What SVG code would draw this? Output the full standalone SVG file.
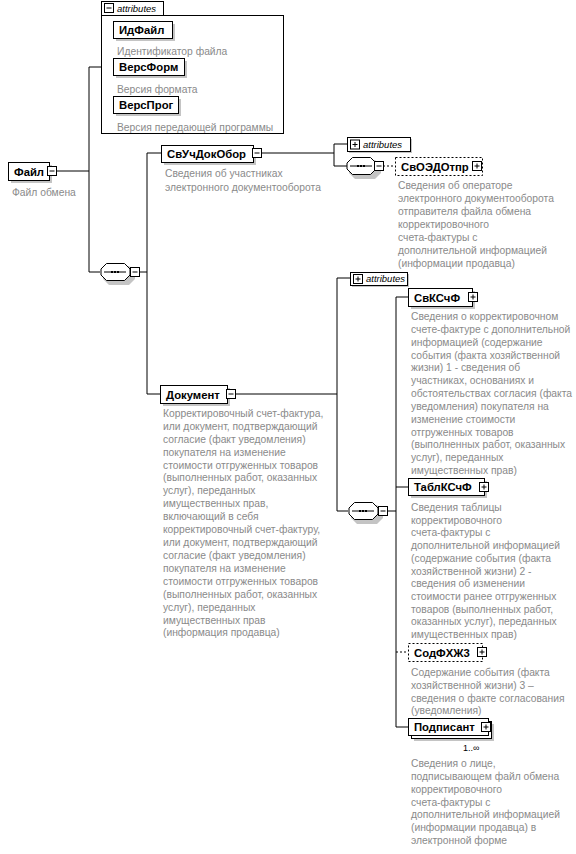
<svg xmlns="http://www.w3.org/2000/svg" xmlns:xlink="http://www.w3.org/1999/xlink" width="576" height="854" viewBox="0 0 576 854">
<style>
.box{fill:#fff;stroke:#000;stroke-width:1}
.dbox{fill:#fff;stroke:#000;stroke-width:1;stroke-dasharray:2,2}
.sh{fill:#c4c4c4;stroke:none}
.name{font-family:"Liberation Sans",Arial,sans-serif;font-size:11.3px;font-weight:bold;fill:#000}
.desc{font-family:"Liberation Sans",Arial,sans-serif;font-size:10.3px;fill:#8a8a8a}
.attr{font-family:"Liberation Sans",Arial,sans-serif;font-size:9.5px;font-style:italic;fill:#000}
.occ{font-family:"Liberation Sans",Arial,sans-serif;font-size:9px;fill:#000}
.ln{fill:none;stroke:#000;stroke-width:1}
.dl{fill:none;stroke:#000;stroke-width:1;stroke-dasharray:2,2}
.ic{fill:#fff;stroke:#000;stroke-width:1}
</style>
<defs>
<g id="minus"><rect class="ic" x="0.5" y="0.5" width="9" height="9"/><path class="ln" d="M2.5 5h5"/></g>
<g id="plus"><rect class="ic" x="0.5" y="0.5" width="9" height="9"/><path class="ln" d="M2.5 5h5M5 2.5v5"/></g>
<g id="seq">
<path class="sh" d="M9 3h20l6 6v7l-6 6h-20l-6-6v-7z"/>
<path class="box" d="M6.5 0.5h18l5.5 5.5v6l-5.5 5.5h-18l-5.5-5.5v-6z"/>
<path class="ln" d="M4 9h22"/>
<rect x="11" y="8" width="2" height="2" fill="#000"/><rect x="14" y="8" width="2" height="2" fill="#000"/><rect x="17" y="8" width="2" height="2" fill="#000"/>
</g>
</defs>

<g id="connectors">
<path class="ln" d="M57 171H89M89 67V272M89 67H101M89 272H100"/>
<path class="ln" d="M139 272H147M147 153V394M147 153H161M147 394H160"/>
<path class="ln" d="M262 153H334M334 144V166M334 144H347M334 166H347"/>
<path class="dl" d="M383 166H395"/>
<path class="ln" d="M236 394H337M337 278V511M337 278H350M337 511H348"/>
<path class="ln" d="M387 511H396M396 297V727M396 297H408M396 487H408M396 727H408"/>
<path class="dl" d="M396 652H408"/>
</g>

<g id="attributes-top">
<rect class="box" x="101.5" y="15.5" width="182" height="118"/>
<rect class="box" x="101.5" y="1.5" width="62" height="14"/>
<use xlink:href="#minus" x="104" y="3"/>
<text class="attr" x="117" y="12">attributes</text>
</g>

<g id="node-IdFile">
<rect class="sh" x="116" y="24" width="59" height="17"/>
<rect class="box" x="113.5" y="21.5" width="59" height="17"/>
<text class="name" x="119" y="34">ИдФайл</text>
<text class="desc" x="117" y="55">Идентификатор файла</text>
</g>
<g id="node-VersForm">
<rect class="sh" x="116" y="61" width="71" height="17"/>
<rect class="box" x="113.5" y="58.5" width="71" height="17"/>
<text class="name" x="119" y="71">ВерсФорм</text>
<text class="desc" x="117" y="93">Версия формата</text>
</g>
<g id="node-VersProg">
<rect class="sh" x="116" y="99" width="65" height="17"/>
<rect class="box" x="113.5" y="96.5" width="65" height="17"/>
<text class="name" x="119" y="109">ВерсПрог</text>
<text class="desc" x="117" y="131">Версия передающей программы</text>
</g>

<g id="node-File">
<rect class="sh" x="11" y="165" width="41" height="18"/>
<rect class="box" x="8.5" y="162.5" width="41" height="18"/>
<text class="name" x="14" y="176">Файл</text>
<use xlink:href="#minus" x="47" y="166"/>
<text class="desc" x="12" y="196">Файл обмена</text>
</g>

<g id="seq-1">
<use xlink:href="#seq" x="100" y="263"/>
<use xlink:href="#minus" x="130" y="267"/>
</g>

<g id="node-SvUchDokObor">
<rect class="sh" x="164" y="148" width="92" height="17"/>
<rect class="box" x="161.5" y="145.5" width="92" height="17"/>
<text class="name" x="167" y="158">СвУчДокОбор</text>
<use xlink:href="#minus" x="252" y="148"/>
<text class="desc" x="165" y="177">Сведения об участниках</text>
<text class="desc" x="165" y="191">электронного документооборота</text>
</g>

<g id="attributes-2">
<rect class="sh" x="349" y="139" width="63" height="14"/>
<rect class="box" x="347.5" y="137.5" width="63" height="14"/>
<use xlink:href="#plus" x="350" y="139.5"/>
<text class="attr" x="363" y="148">attributes</text>
</g>

<g id="seq-2">
<use xlink:href="#seq" x="346" y="157"/>
<use xlink:href="#minus" x="374" y="161"/>
</g>

<g id="node-SvOEDOtpr">
<rect class="dbox" x="395.5" y="157.5" width="87" height="18"/>
<text class="name" x="401" y="171">СвОЭДОтпр</text>
<use xlink:href="#plus" x="472" y="161"/>
<text class="desc" x="398" y="189">Сведения об операторе</text>
<text class="desc" x="398" y="202">электронного документооборота</text>
<text class="desc" x="398" y="215">отправителя файла обмена</text>
<text class="desc" x="398" y="228">корректировочного</text>
<text class="desc" x="398" y="241">счета-фактуры с</text>
<text class="desc" x="398" y="254">дополнительной информацией</text>
<text class="desc" x="398" y="267">(информации продавца)</text>
</g>

<g id="node-Dokument">
<rect class="sh" x="163" y="388" width="67" height="18"/>
<rect class="box" x="160.5" y="385.5" width="67" height="18"/>
<text class="name" x="166" y="399">Документ</text>
<use xlink:href="#minus" x="226" y="389"/>
<text class="desc" x="163" y="417">Корректировочный счет-фактура,</text>
<text class="desc" x="163" y="430">или документ, подтверждающий</text>
<text class="desc" x="163" y="443">согласие (факт уведомления)</text>
<text class="desc" x="163" y="456">покупателя на изменение</text>
<text class="desc" x="163" y="469">стоимости отгруженных товаров</text>
<text class="desc" x="163" y="481">(выполненных работ, оказанных</text>
<text class="desc" x="163" y="494">услуг), переданных</text>
<text class="desc" x="163" y="507">имущественных прав,</text>
<text class="desc" x="163" y="520">включающий в себя</text>
<text class="desc" x="163" y="533">корректировочный счет-фактуру,</text>
<text class="desc" x="163" y="546">или документ, подтверждающий</text>
<text class="desc" x="163" y="559">согласие (факт уведомления)</text>
<text class="desc" x="163" y="572">покупателя на изменение</text>
<text class="desc" x="163" y="585">стоимости отгруженных товаров</text>
<text class="desc" x="163" y="598">(выполненных работ, оказанных</text>
<text class="desc" x="163" y="611">услуг), переданных</text>
<text class="desc" x="163" y="624">имущественных прав</text>
<text class="desc" x="163" y="636">(информация продавца)</text>
</g>

<g id="attributes-3">
<rect class="sh" x="352" y="274" width="57" height="13"/>
<rect class="box" x="350.5" y="272.5" width="57" height="13"/>
<use xlink:href="#plus" x="353" y="274"/>
<text class="attr" x="366" y="282">attributes</text>
</g>

<g id="seq-3">
<use xlink:href="#seq" x="348" y="502"/>
<use xlink:href="#minus" x="378" y="506"/>
</g>

<g id="node-SvKSchF">
<rect class="sh" x="411" y="291" width="64" height="18"/>
<rect class="box" x="408.5" y="288.5" width="64" height="18"/>
<text class="name" x="414" y="302">СвКСчФ</text>
<use xlink:href="#plus" x="468" y="292"/>
<text class="desc" x="411" y="320">Сведения о корректировочном</text>
<text class="desc" x="411" y="333">счете-фактуре с дополнительной</text>
<text class="desc" x="411" y="346">информацией (содержание</text>
<text class="desc" x="411" y="359">события (факта хозяйственной</text>
<text class="desc" x="411" y="371">жизни) 1 - сведения об</text>
<text class="desc" x="411" y="384">участниках, основаниях и</text>
<text class="desc" x="411" y="397">обстоятельствах согласия (факта</text>
<text class="desc" x="411" y="410">уведомления) покупателя на</text>
<text class="desc" x="411" y="423">изменение стоимости</text>
<text class="desc" x="411" y="436">отгруженных товаров</text>
<text class="desc" x="411" y="448">(выполненных работ, оказанных</text>
<text class="desc" x="411" y="461">услуг), переданных</text>
<text class="desc" x="411" y="474">имущественных прав)</text>
</g>

<g id="node-TablKSchF">
<rect class="sh" x="411" y="481" width="76" height="17"/>
<rect class="box" x="408.5" y="478.5" width="76" height="17"/>
<text class="name" x="414" y="491">ТаблКСчФ</text>
<use xlink:href="#plus" x="479" y="482"/>
<text class="desc" x="411" y="511">Сведения таблицы</text>
<text class="desc" x="411" y="524">корректировочного</text>
<text class="desc" x="411" y="536">счета-фактуры с</text>
<text class="desc" x="411" y="549">дополнительной информацией</text>
<text class="desc" x="411" y="562">(содержание события (факта</text>
<text class="desc" x="411" y="575">хозяйственной жизни) 2 -</text>
<text class="desc" x="411" y="587">сведения об изменении</text>
<text class="desc" x="411" y="600">стоимости ранее отгруженных</text>
<text class="desc" x="411" y="613">товаров (выполненных работ,</text>
<text class="desc" x="411" y="625">оказанных услуг), переданных</text>
<text class="desc" x="411" y="638">имущественных прав)</text>
</g>

<g id="node-SodFHZh3">
<rect class="dbox" x="408.5" y="643.5" width="74" height="18"/>
<text class="name" x="414" y="657">СодФХЖ3</text>
<use xlink:href="#plus" x="477" y="647"/>
<text class="desc" x="411" y="676">Содержание события (факта</text>
<text class="desc" x="411" y="689">хозяйственной жизни) 3 –</text>
<text class="desc" x="411" y="702">сведения о факте согласования</text>
<text class="desc" x="411" y="714">(уведомления)</text>
</g>

<g id="node-Podpisant">
<rect class="sh" x="414" y="724" width="80" height="17"/>
<rect class="box" x="411.5" y="721.5" width="80" height="17"/>
<rect class="box" x="408.5" y="718.5" width="80" height="17"/>
<text class="name" x="414" y="731">Подписант</text>
<use xlink:href="#plus" x="481" y="722"/>
<text class="occ" x="463" y="751">1..∞</text>
<text class="desc" x="411" y="767">Сведения о лице,</text>
<text class="desc" x="411" y="780">подписывающем файл обмена</text>
<text class="desc" x="411" y="793">корректировочного</text>
<text class="desc" x="411" y="806">счета-фактуры с</text>
<text class="desc" x="411" y="818">дополнительной информацией</text>
<text class="desc" x="411" y="831">(информации продавца) в</text>
<text class="desc" x="411" y="844">электронной форме</text>
</g>
</svg>
